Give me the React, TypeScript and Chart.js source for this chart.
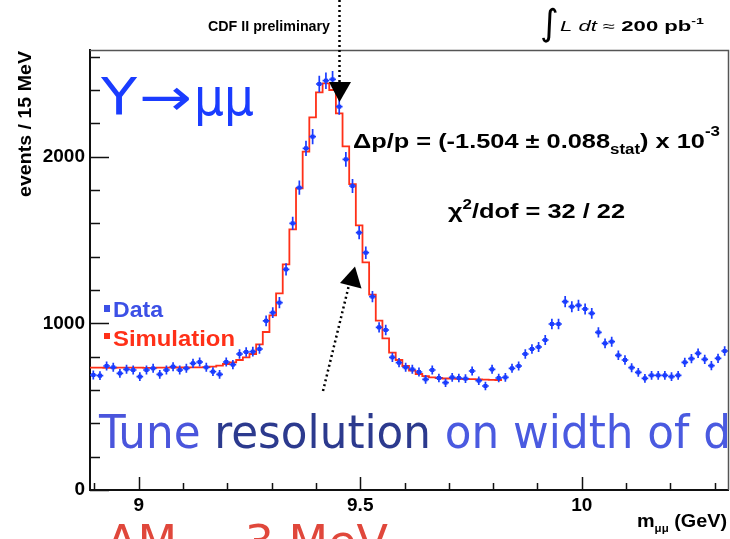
import { useEffect, useRef } from 'react';
import { Chart, registerables } from 'chart.js';

Chart.register(...registerables);

// ---- data ----
const BIN_LOW = 8.89; // GeV, lower edge of first bin
const BIN_WIDTH = 0.015; // GeV (15 MeV)
const X_MIN = 8.89;
const X_MAX = 10.33;
const Y_MIN = 0;
const Y_MAX = 2640;

// events / 15 MeV, data (96 bins)
const dataCounts = [
  690, 686, 744, 736, 700, 724, 720, 680, 720, 730,
  694, 720, 740, 720, 730, 760, 768, 736, 710, 694,
  768, 752, 816, 828, 830, 846, 1015, 1064, 1124, 1324,
  1600, 1814, 2050, 2120, 2436, 2456, 2464, 2300, 1984, 1824,
  1544, 1424, 1160, 976, 960, 796, 764, 736, 724, 708,
  664, 720, 672, 644, 676, 672, 668, 714, 656, 624,
  724, 672, 676, 730, 744, 816, 846, 858, 900, 996,
  996, 1130, 1100, 1108, 1086, 1060, 946, 880, 890, 808,
  780, 734, 706, 670, 688, 688, 688, 680, 688, 766,
  788, 820, 784, 746, 790, 834,
];

// simulation histogram (first 62 bins)
const simCounts = [
  734, 734, 733, 733, 734, 734, 734, 734, 733, 733,
  734, 734, 735, 735, 735, 736, 736, 737, 740, 746,
  756, 766, 780, 796, 816, 874, 948, 1048, 1180, 1354,
  1564, 1810, 2030, 2236, 2386, 2440, 2400, 2260, 2062, 1835,
  1588, 1366, 1172, 1016, 910, 824, 780, 744, 716, 696,
  683, 676, 672, 669, 668, 667, 666, 665, 664, 662,
  661, 660,
];

const xTickLabels = [9, 9.5, 10];
const yTickLabels = [0, 1000, 2000];
const X_MINOR_STEP = 0.1;
const Y_MINOR_STEP = 200;

const BLUE = '#1a3cff';
const RED = '#ff3018';
const ROOT_FONT = '"Liberation Sans", Arial, Helvetica, sans-serif';
const SLIDE_FONT = '"DejaVu Sans Condensed", "DejaVu Sans", Verdana, sans-serif';

type Run = { t: string; font: string; dy?: number; color?: string };

function drawRuns(
  ctx: CanvasRenderingContext2D,
  runs: Run[],
  x: number,
  y: number,
  color: string,
  targetWidth?: number,
  fitCount?: number,
) {
  ctx.save();
  ctx.textAlign = 'left';
  ctx.textBaseline = 'alphabetic';
  const widths = runs.map((r) => {
    ctx.font = r.font;
    return ctx.measureText(r.t).width;
  });
  const n = fitCount ?? runs.length;
  const fitW = widths.slice(0, n).reduce((a, b) => a + b, 0);
  const sx = targetWidth ? targetWidth / fitW : 1;
  ctx.translate(x, y);
  ctx.scale(sx, 1);
  let cx = 0;
  runs.forEach((r, i) => {
    ctx.font = r.font;
    ctx.fillStyle = r.color || color;
    ctx.fillText(r.t, cx, r.dy || 0);
    cx += widths[i];
  });
  ctx.restore();
}

const decorPlugin = {
  id: 'decor',
  afterDatasetsDraw(chart: any) {
    const ctx: CanvasRenderingContext2D = chart.ctx;
    const xs = chart.scales.x;
    const ys = chart.scales.y;
    ctx.save();
    ctx.strokeStyle = BLUE;
    ctx.fillStyle = BLUE;
    ctx.lineWidth = 1.7;
    dataCounts.forEach((n, i) => {
      const c = BIN_LOW + (i + 0.5) * BIN_WIDTH;
      const px = xs.getPixelForValue(c);
      const py = ys.getPixelForValue(n);
      const e = Math.sqrt(n);
      const top = ys.getPixelForValue(n + e);
      const bot = ys.getPixelForValue(n - e);
      const l = xs.getPixelForValue(c - BIN_WIDTH / 2);
      const r = xs.getPixelForValue(c + BIN_WIDTH / 2);
      ctx.beginPath();
      ctx.moveTo(l, py);
      ctx.lineTo(r, py);
      ctx.moveTo(px, top);
      ctx.lineTo(px, bot);
      ctx.stroke();
      ctx.fillRect(px - 2, py - 2, 4, 4);
    });
    ctx.restore();
  },
  afterDraw(chart: any) {
    const ctx: CanvasRenderingContext2D = chart.ctx;
    const xs = chart.scales.x;
    const ys = chart.scales.y;
    const area = chart.chartArea;
    ctx.save();

    // frame top / right (gray)
    ctx.strokeStyle = '#555';
    ctx.lineWidth = 1.5;
    ctx.beginPath();
    ctx.moveTo(area.left, area.top + 0.5);
    ctx.lineTo(area.right + 0.5, area.top + 0.5);
    ctx.lineTo(area.right + 0.5, area.bottom);
    ctx.stroke();

    // inward ticks
    ctx.strokeStyle = '#111';
    ctx.lineWidth = 1.5;
    ctx.beginPath();
    for (let v = Y_MIN; v <= Y_MAX + 1e-6; v += Y_MINOR_STEP) {
      const py = Math.round(ys.getPixelForValue(v)) + 0.5;
      const major = yTickLabels.includes(v);
      ctx.moveTo(area.left, py);
      ctx.lineTo(area.left + (major ? 19 : 10), py);
    }
    const startX = Math.ceil(X_MIN / X_MINOR_STEP - 1e-6);
    const endX = Math.floor(X_MAX / X_MINOR_STEP + 1e-6);
    for (let k = startX; k <= endX; k++) {
      const v = k * X_MINOR_STEP;
      const px = Math.round(xs.getPixelForValue(v)) + 0.5;
      const major = xTickLabels.some((t) => Math.abs(t - v) < 1e-6);
      ctx.moveTo(px, area.bottom);
      ctx.lineTo(px, area.bottom - (major ? 13 : 7));
    }
    ctx.stroke();

    // axis titles
    ctx.fillStyle = '#000';
    ctx.save();
    ctx.translate(31, 51);
    ctx.rotate(-Math.PI / 2);
    ctx.font = `bold 19px ${ROOT_FONT}`;
    ctx.textAlign = 'right';
    ctx.textBaseline = 'alphabetic';
    const evW = ctx.measureText('events / 15 MeV').width;
    ctx.scale(146 / evW, 1);
    ctx.fillText('events / 15 MeV', 0, 0);
    ctx.restore();

    drawRuns(
      ctx,
      [
        { t: 'm', font: `bold 19px ${ROOT_FONT}` },
        { t: 'μμ', font: `bold 11px ${ROOT_FONT}`, dy: 5 },
        { t: ' (GeV)', font: `bold 19px ${ROOT_FONT}` },
      ],
      637,
      527,
      '#000',
      90,
    );

    // header texts
    drawRuns(ctx, [{ t: 'CDF II preliminary', font: `bold 14px ${ROOT_FONT}` }], 208, 31, '#000', 122);
    ctx.font = `36px "DejaVu Sans", sans-serif`;
    ctx.fillStyle = '#000';
    ctx.fillText('∫', 540, 35);
    drawRuns(
      ctx,
      [
        { t: 'L dt', font: `italic 14px ${ROOT_FONT}` },
        { t: ' ≈ ', font: `14px ${ROOT_FONT}` },
        { t: '200 pb', font: `bold 14px ${ROOT_FONT}` },
        { t: '-1', font: `bold 9px ${ROOT_FONT}`, dy: -7 },
      ],
      560,
      31,
      '#000',
      144,
    );

    // fit results
    drawRuns(
      ctx,
      [
        { t: 'Δp/p = (-1.504 ± 0.088', font: `bold 21px ${ROOT_FONT}` },
        { t: 'stat', font: `bold 14px ${ROOT_FONT}`, dy: 6 },
        { t: ') x 10', font: `bold 21px ${ROOT_FONT}` },
        { t: '-3', font: `bold 14px ${ROOT_FONT}`, dy: -12 },
      ],
      353,
      148,
      '#000',
      367,
    );
    drawRuns(
      ctx,
      [
        { t: 'χ', font: `bold 21px ${ROOT_FONT}` },
        { t: '2', font: `bold 14px ${ROOT_FONT}`, dy: -9 },
        { t: '/dof = 32 / 22', font: `bold 21px ${ROOT_FONT}` },
      ],
      448,
      218,
      '#000',
      177,
    );

    // legend
    ctx.fillStyle = '#3c50e6';
    ctx.fillRect(104, 305, 6, 7);
    ctx.fillStyle = RED;
    ctx.fillRect(104, 333, 6, 6);
    drawRuns(ctx, [{ t: 'Data', font: `bold 22px ${ROOT_FONT}` }], 113, 317, '#3c50e6', 50);
    drawRuns(ctx, [{ t: 'Simulation', font: `bold 22px ${ROOT_FONT}` }], 113, 346, RED, 122);

    // arrows
    ctx.strokeStyle = '#000';
    ctx.fillStyle = '#000';
    ctx.lineWidth = 2.5;
    ctx.setLineDash([2, 3]);
    ctx.beginPath();
    ctx.moveTo(339.5, 0);
    ctx.lineTo(339.5, 83);
    ctx.stroke();
    ctx.beginPath();
    ctx.moveTo(323, 391);
    ctx.lineTo(349, 285);
    ctx.stroke();
    ctx.setLineDash([]);
    ctx.beginPath();
    ctx.moveTo(329, 82);
    ctx.lineTo(351, 82);
    ctx.lineTo(339.5, 102);
    ctx.closePath();
    ctx.fill();
    ctx.beginPath();
    ctx.moveTo(355, 266.5);
    ctx.lineTo(340, 283);
    ctx.lineTo(361.5, 288.5);
    ctx.closePath();
    ctx.fill();

    // slide overlay texts
    drawRuns(ctx, [{ t: 'Υ', font: `52px ${SLIDE_FONT}` }], 101, 115, BLUE, 36);
    drawRuns(ctx, [{ t: '→', font: `52px ${SLIDE_FONT}` }], 139, 115, BLUE, 53);
    drawRuns(ctx, [{ t: 'μμ', font: `52px ${SLIDE_FONT}` }], 194, 115, BLUE, 60);
    drawRuns(
      ctx,
      [
        { t: 'Tune ', font: `46px ${SLIDE_FONT}`, color: '#4a55dc' },
        { t: 'resolution', font: `46px ${SLIDE_FONT}`, color: '#2c3a8e' },
        { t: ' on width of data', font: `46px ${SLIDE_FONT}`, color: '#4a5ae0' },
      ],
      99,
      448,
      '#4a55dc',
      332,
      2,
    );
    drawRuns(
      ctx,
      [{ t: 'ΔM ~ 3 MeV', font: `46px ${SLIDE_FONT}` }],
      106,
      558,
      '#e0473b',
      282,
    );

    ctx.restore();
  },
};

export default function App() {
  const canvasRef = useRef<HTMLCanvasElement | null>(null);

  useEffect(() => {
    const canvas = canvasRef.current;
    if (!canvas) return;

    const simPoints = simCounts.map((v, i) => ({ x: BIN_LOW + i * BIN_WIDTH, y: v }));
    simPoints.push({
      x: BIN_LOW + simCounts.length * BIN_WIDTH,
      y: simCounts[simCounts.length - 1],
    });
    const dataPoints = dataCounts.map((v, i) => ({ x: BIN_LOW + (i + 0.5) * BIN_WIDTH, y: v }));

    const tickFont = { family: ROOT_FONT, weight: 'bold' as const, size: 19 };

    const chart = new Chart(canvas, {
      type: 'line',
      data: {
        datasets: [
          {
            label: 'Simulation',
            data: simPoints,
            borderColor: RED,
            borderWidth: 1.8,
            pointRadius: 0,
            fill: false,
            stepped: 'before',
            order: 2,
          },
          {
            type: 'scatter',
            label: 'Data',
            data: dataPoints,
            pointRadius: 0,
            showLine: false,
            borderColor: BLUE,
            backgroundColor: BLUE,
            order: 1,
          } as any,
        ],
      },
      options: {
        animation: false,
        responsive: false,
        maintainAspectRatio: false,
        layout: { padding: { top: 50, right: 2, left: 0, bottom: 0 } },
        plugins: {
          legend: { display: false },
          tooltip: { enabled: false },
        },
        scales: {
          x: {
            type: 'linear',
            min: X_MIN,
            max: X_MAX,
            grid: { display: false, drawTicks: false },
            border: { display: true, color: '#111', width: 2 },
            ticks: {
              font: tickFont,
              color: '#000',
              padding: 4,
              maxRotation: 0,
              callback: (v: any) => String(v),
            },
            afterBuildTicks: (s: any) => {
              s.ticks = xTickLabels.map((v) => ({ value: v }));
            },
            afterFit: (s: any) => {
              s.height = 49;
            },
          },
          y: {
            type: 'linear',
            min: Y_MIN,
            max: Y_MAX,
            grid: { display: false, drawTicks: false },
            border: { display: true, color: '#111', width: 2 },
            ticks: {
              font: tickFont,
              color: '#000',
              padding: 5,
              callback: (v: any) => String(v),
            },
            afterBuildTicks: (s: any) => {
              s.ticks = yTickLabels.map((v) => ({ value: v }));
            },
            afterFit: (s: any) => {
              s.width = 90;
            },
          },
        },
      },
      plugins: [decorPlugin],
    });

    return () => {
      chart.destroy();
    };
  }, []);

  return (
    <div style={{ position: 'absolute', left: 0, top: 0, width: 730, height: 539, background: '#fff', overflow: 'hidden' }}>
      <canvas ref={canvasRef} width={730} height={539} style={{ width: 730, height: 539, display: 'block' }} />
    </div>
  );
}
